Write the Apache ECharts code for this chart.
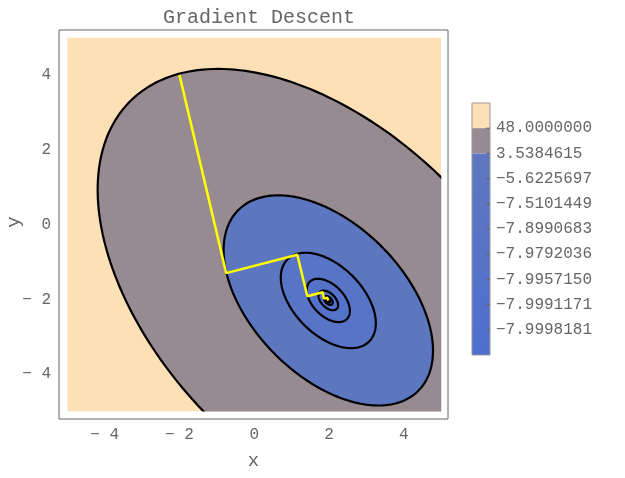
<!DOCTYPE html><html><head><meta charset="utf-8"><script src="https://cdn.jsdelivr.net/npm/echarts@6/dist/echarts.min.js"></script></head><body style="margin:0"><div id="c" style="width:625px;height:478px"></div><script>
const center=[1.98,-2.03];
const qinv=[[0.679,-0.326],[-0.326,0.684]];
const levels=[48.0,3.5384615,-5.6225697,-7.5101449,-7.8990683,-7.9792036,-7.9957150,-7.9991171,-7.9998181];
const levelLabels=['48.0000000','3.5384615','\u22125.6225697','\u22127.5101449','\u22127.8990683','\u22127.9792036','\u22127.9957150','\u22127.9991171','\u22127.9998181'];
const fmin=-8;
const fills=['#978a91','#5d76c0','#5874c6','#5572ca','#5371cc','#5170ce','#5070cf','#4f6fd0'];
const pathX=[-2,-0.75,1.15,1.42,1.83,1.86,1.95,1.98];
const pathY=[4,-1.30,-0.81,-1.92,-1.81,-1.98,-1.96,-2.03];
const ticks=[-4,-2,0,2,4];
const l11=Math.sqrt(qinv[0][0]),l21=qinv[0][1]/l11,l22=Math.sqrt(qinv[1][1]-l21*l21);
function ellipse(k){const p=[];for(let i=0;i<=240;i++){const t=i/240*2*Math.PI,c=Math.cos(t),s=Math.sin(t),r=Math.sqrt(k);p.push([center[0]+r*l11*c,center[1]+r*(l21*c+l22*s)]);}return p;}
const shapes=[{pts:[[-5,-5],[5,-5],[5,5],[-5,5]],fill:'#fde0b5',stroke:null}];
levels.slice(0,-1).forEach((lv,i)=>shapes.push({pts:ellipse(lv-fmin),fill:fills[i],stroke:'#000'}));
const tc='#666',font='Liberation Mono';
const ch=echarts.init(document.getElementById('c'));
const axisCommon={type:'value',axisLine:{show:false},splitLine:{show:false},axisTick:{inside:true,length:5,lineStyle:{color:'#666'},customValues:ticks},axisLabel:{color:tc,fontFamily:font,fontSize:16,customValues:ticks,formatter:v=>String(v).replace('-','\u2212 ')},nameTextStyle:{color:tc,fontFamily:font,fontSize:19}};
const segH=25.2,top0=103,barX=472,barW=18;
const g=[];
g.push({type:'text',x:14,y:222,rotation:Math.PI/2,style:{text:'y',fill:tc,font:'19px "Liberation Mono"',textAlign:'center',textVerticalAlign:'middle'}});
g.push({type:'rect',shape:{x:barX,y:top0,width:barW,height:segH},style:{fill:'#fde0b5'}});
g.push({type:'rect',shape:{x:barX,y:top0+segH,width:barW,height:segH},style:{fill:'#978a91'}});
g.push({type:'rect',shape:{x:barX,y:top0+2*segH,width:barW,height:252-2*segH},style:{fill:new echarts.graphic.LinearGradient(0,0,0,1,[{offset:0,color:'#5e77bf'},{offset:1,color:'#4f6fd0'}])}});
g.push({type:'rect',shape:{x:barX,y:top0,width:barW,height:252},style:{fill:'none',stroke:'#999',lineWidth:1}});
levelLabels.forEach((t,i)=>{const y=top0+segH*(i+1);g.push({type:'line',shape:{x1:barX+barW-4,y1:y,x2:barX+barW,y2:y},style:{stroke:'#666'}});g.push({type:'text',x:barX+barW+6,y:y,style:{text:t,fill:tc,font:'16px "Liberation Mono"',textVerticalAlign:'middle'}});});
ch.setOption({animation:false,
title:{text:'Gradient Descent',left:254,top:3,textAlign:'center',textStyle:{color:tc,fontFamily:font,fontSize:20,fontWeight:'normal'}},
grid:{left:59,right:177,top:30,bottom:59,show:true,borderColor:'#666',borderWidth:1,containLabel:false,outerBoundsMode:'none'},
xAxis:Object.assign({},axisCommon,{min:-5.22,max:5.18,name:'x',nameLocation:'middle',nameGap:32}),
yAxis:Object.assign({},axisCommon,{min:-5.2,max:5.2}),
graphic:g,
series:[{type:'custom',data:shapes.map((s,i)=>i),clip:false,renderItem:(params,api)=>{const s=shapes[params.dataIndex];const a=api.coord([-5,5]),b=api.coord([5,-5]);return {type:'polygon',shape:{points:s.pts.map(p=>api.coord(p))},style:{fill:s.fill,stroke:s.stroke||'none',lineWidth:2.2},clipPath:{type:'rect',shape:{x:a[0],y:a[1],width:b[0]-a[0],height:b[1]-a[1]}}};}},
{type:'line',data:pathX.map((x,i)=>[x,pathY[i]]),symbol:'none',lineStyle:{color:'#ffff00',width:2.5},z:5}]});
</script></body></html>
